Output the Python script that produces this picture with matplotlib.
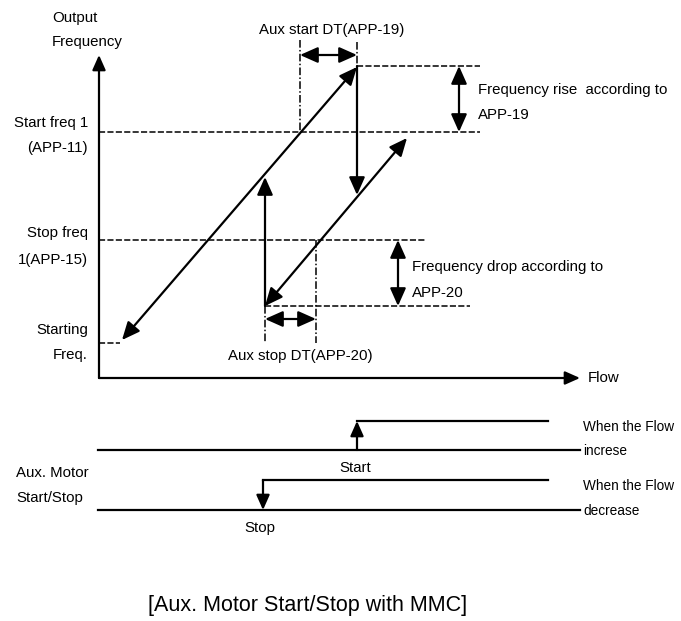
import matplotlib
matplotlib.use("Agg")
import matplotlib.pyplot as plt

plt.rcParams['font.family'] = ['Liberation Sans', 'DejaVu Sans']

# diagram coordinates (x = flow, y = output frequency, page units, y grows downward)
F_TOP, F_START, F_STOP, F_LOW, F_MIN = 66, 132, 240, 306, 343
AXIS_X0, AXIS_Y0 = 99, 378
AXIS_X_END, AXIS_Y_END = 580, 55

rise_main = [(122, 340), (357, 67)]      # frequency ramp of main motor
rise_aux = [(265, 306), (407, 138)]      # ramp after aux motor stopped
jump_up = [(265, 306), (265, 177)]
jump_down = [(357, 66), (357, 195)]

start_dt = [300, 357]
stop_dt = [265, 316]

left_labels = [("Start freq 1", F_START - 9), ("(APP-11)", F_START + 16),
               ("Stop freq", F_STOP - 7), ("1(APP-15)", F_STOP + 20),
               ("Starting", F_MIN - 13), ("Freq.", F_MIN + 12)]

# timing chart rows: (low y, high y, step x, arrow direction)
timing = [(450, 421, 357, "up"), (510, 480, 263, "down")]
timing_notes = [("When the Flow", "increse"), ("When the Flow", "decrease")]

FS = 10.8    # main label size
FS_S = 9.8   # timing chart notes

fig = plt.figure(figsize=(6.81, 6.21), dpi=100)
ax = fig.add_axes([0, 0, 1, 1])
ax.set_xlim(0, 681)
ax.set_ylim(621, 0)
ax.axis("off")

LW = 1.6
HEAD = "-|>,head_length=0.9,head_width=0.4"
DHEAD = "<|-|>,head_length=0.9,head_width=0.4"


def arrow(p0, p1, style=HEAD, ms=12):
    ax.annotate("", xy=p1, xytext=p0,
                arrowprops=dict(arrowstyle=style, color="black", lw=LW,
                                shrinkA=0, shrinkB=0, mutation_scale=ms))


def dashed(xs, ys):
    ax.plot(xs, ys, color="black", lw=1.1, dashes=(4, 1.5))


def dashdot(xs, ys):
    ax.plot(xs, ys, color="black", lw=1.1, dashes=(5, 1.5, 1, 1.5))


# axes
arrow((AXIS_X0, AXIS_Y0), (AXIS_X0, AXIS_Y_END), ms=10)
arrow((AXIS_X0, AXIS_Y0), (AXIS_X_END, AXIS_Y0), ms=10)
ax.text(52, 18, "Output", fontsize=FS, ha="left", va="center")
ax.text(52, 42, "Frequency", fontsize=FS, ha="left", va="center")
ax.text(588, 378, "Flow", fontsize=FS, ha="left", va="center")

# frequency levels
dashed([AXIS_X0, 480], [F_START, F_START])
dashed([start_dt[1], 480], [F_TOP, F_TOP])
dashed([AXIS_X0, 425], [F_STOP, F_STOP])
dashed([stop_dt[0], 470], [F_LOW, F_LOW])
dashed([AXIS_X0, 120], [F_MIN, F_MIN])

for txt, y in left_labels:
    ax.text(88, y, txt, fontsize=FS, ha="right", va="center")

# ramps and jumps
arrow(rise_main[0], rise_main[1], DHEAD)
arrow(rise_aux[0], rise_aux[1], DHEAD)
arrow(jump_up[0], jump_up[1])
arrow(jump_down[0], jump_down[1])

# aux start delay
dashdot([start_dt[0], start_dt[0]], [40, F_START])
dashdot([start_dt[1], start_dt[1]], [42, F_TOP])
arrow((start_dt[0], 55), (start_dt[1], 55), DHEAD)
ax.text(332, 30, "Aux start DT(APP-19)", fontsize=FS, ha="center", va="center")

# aux stop delay
dashdot([stop_dt[0], stop_dt[0]], [F_LOW, F_MIN])
dashdot([stop_dt[1], stop_dt[1]], [F_STOP, F_MIN])
arrow((stop_dt[0], 319), (stop_dt[1], 319), DHEAD)
ax.text(228, 356, "Aux stop DT(APP-20)", fontsize=FS, ha="left", va="center")

# frequency rise / drop
arrow((459, F_TOP), (459, F_START), DHEAD)
ax.text(478, 90, "Frequency rise  according to", fontsize=FS, ha="left", va="center")
ax.text(478, 115, "APP-19", fontsize=FS, ha="left", va="center")
arrow((398, F_STOP), (398, F_LOW), DHEAD)
ax.text(412, 267, "Frequency drop according to", fontsize=FS, ha="left", va="center")
ax.text(412, 293, "APP-20", fontsize=FS, ha="left", va="center")

# timing chart
for (lo, hi, xs, d), (n1, n2) in zip(timing, timing_notes):
    ax.plot([98, 580], [lo, lo], color="black", lw=LW)
    ax.plot([xs, 548], [hi, hi], color="black", lw=LW)
    if d == "up":
        arrow((xs, lo), (xs, hi), ms=10)
    else:
        arrow((xs, hi), (xs, lo), ms=10)
    ax.text(583, hi + 6, n1, fontsize=FS_S, ha="left", va="center")
    ax.text(583, lo + 1, n2, fontsize=FS_S, ha="left", va="center")

ax.text(355, 468, "Start", fontsize=FS, ha="center", va="center")
ax.text(260, 528, "Stop", fontsize=FS, ha="center", va="center")
ax.text(16, 473, "Aux. Motor", fontsize=FS, ha="left", va="center")
ax.text(16, 498, "Start/Stop", fontsize=FS, ha="left", va="center")

ax.text(308, 605, "[Aux. Motor Start/Stop with MMC]", fontsize=15.5, ha="center", va="center")

fig.savefig("out.png", dpi=100)
